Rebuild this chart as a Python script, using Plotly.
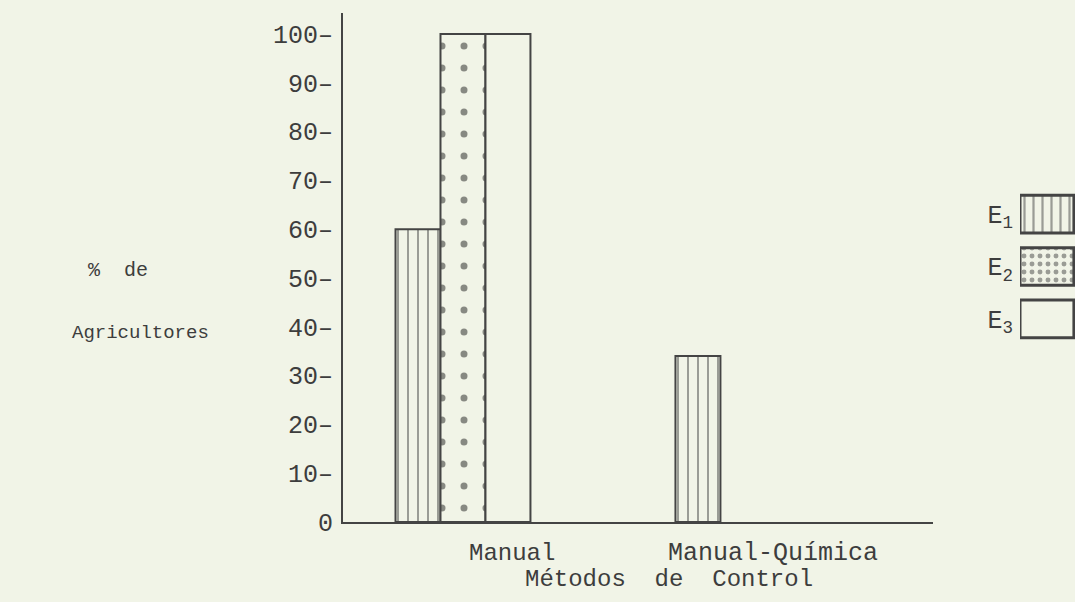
import plotly.graph_objects as go

# ---- data ----
categories = ["Manual", "Manual-Química"]
cat_pos = [1, 2]
e1_values = [60, 34]
e2_values = [100, None]
e3_values = [100, None]
series_names = ["E<sub>1</sub>", "E<sub>2</sub>", "E<sub>3</sub>"]
y_tickvals = [0, 10, 20, 30, 40, 50, 60, 70, 80, 90, 100]
y_ticktext = ["0", "10–", "20–", "30–", "40–", "50–", "60–", "70–", "80–", "90–", "100–"]
y_title_lines = ["%  de", "Agricultores"]
x_title = "Métodos  de  Control"
legend_sizes = [1, 1, 1]

BG = "#f1f4e7"
INK = "#444444"
TXT = "#3d3d3d"
FONT = "Liberation Mono, DejaVu Sans Mono, monospace"

fig = go.Figure()

patterns = [
    dict(shape="|", size=10, solidity=0.2, fgcolor=INK, bgcolor=BG, fillmode="overlay"),
    dict(shape=".", size=22, solidity=0.08, fgcolor="#1e1e1e", bgcolor=BG, fillmode="overlay"),
    dict(shape="", fgcolor=INK, bgcolor=BG),
]
for name, vals, pat in zip(series_names, [e1_values, e2_values, e3_values], patterns):
    fig.add_trace(go.Bar(
        x=cat_pos, y=vals, name=name,
        marker=dict(color=BG, line=dict(color=INK, width=2), pattern=pat),
        showlegend=False, xaxis="x", yaxis="y",
    ))

# legend boxes drawn as a tiny bar chart
fig.add_trace(go.Bar(
    y=series_names, x=legend_sizes, orientation="h",
    marker=dict(color=BG, line=dict(color=INK, width=3),
                pattern=dict(shape=["|", ".", ""], size=[9, 8, 8], solidity=[0.25, 0.3, 0.1],
                             fgcolor=INK, bgcolor=BG, fillmode="overlay")),
    showlegend=False, xaxis="x2", yaxis="y2", width=0.72,
))

L, R, T, B = 343, 0, 13, 80
W, H = 1075, 602
pw = W - L - R
ph = H - T - B

def px_x(p):
    return (p - L) / pw

def px_y(p):
    return (H - B - p) / ph

fig.update_layout(
    width=W, height=H,
    margin=dict(l=L, r=R, t=T, b=B, pad=0),
    paper_bgcolor=BG, plot_bgcolor=BG,
    barmode="group", bargap=0.518, bargroupgap=0,
    font=dict(family=FONT, color=TXT, size=22),
    xaxis=dict(domain=[0, px_x(933)], range=[0.5714, 2.679], showgrid=False, zeroline=False,
               showline=True, linecolor=INK, linewidth=2, showticklabels=False, ticks=""),
    yaxis=dict(domain=[0, 1], range=[0, 104.3], showgrid=False, zeroline=False,
               showline=True, linecolor=INK, linewidth=2,
               tickvals=y_tickvals, ticktext=y_ticktext, ticks="outside", ticklen=3,
               tickcolor=BG, tickfont=dict(size=25, family=FONT, color=TXT)),
    xaxis2=dict(domain=[px_x(1020), 1], range=[0, 1.02], anchor="y2", visible=False),
    yaxis2=dict(domain=[px_y(345), px_y(188)], anchor="x2", autorange="reversed",
                showgrid=False, zeroline=False, showline=False, ticks="outside",
                ticklen=1, tickcolor=BG, tickfont=dict(size=25, family=FONT, color=TXT)),
)

annotations = [
    dict(text=categories[0], x=px_x(512), y=px_y(553), size=24),
    dict(text=categories[1], x=px_x(773), y=px_y(553), size=25),
    dict(text=x_title, x=px_x(669), y=px_y(579), size=24),
    dict(text=y_title_lines[0], x=px_x(118), y=px_y(270), size=20),
    dict(text=y_title_lines[1], x=px_x(140), y=px_y(333), size=19),
]
for a in annotations:
    fig.add_annotation(xref="paper", yref="paper", x=a["x"], y=a["y"], text=a["text"],
                       showarrow=False, xanchor="center", yanchor="middle",
                       font=dict(size=a["size"], family=FONT, color=TXT))

fig.write_html("out.html", config={"displayModeBar": False},
               post_script="document.body.style.margin='0';document.body.style.background='%s';" % BG)
